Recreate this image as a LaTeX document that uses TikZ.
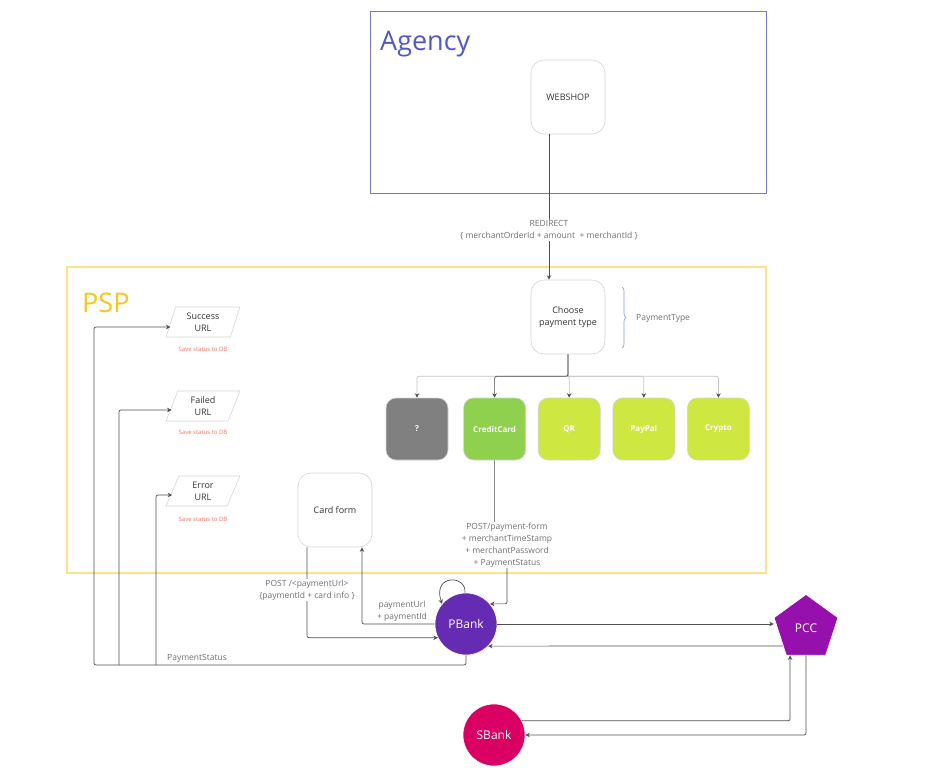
\documentclass[tikz,border=0pt]{standalone}
\usepackage{fontspec}
\setmainfont{Open Sans}
\usepackage{xcolor}
\usepackage{tikz}
\usetikzlibrary{arrows.meta,positioning,shapes.geometric,decorations.pathreplacing,calc}

\definecolor{agencyblue}{HTML}{5258C4}
\definecolor{agencyline}{HTML}{7479D6}
\definecolor{pspyellow}{HTML}{FAC710}
\definecolor{pspline}{HTML}{FBE386}
\definecolor{linegray}{HTML}{4F4F4F}
\definecolor{lightline}{HTML}{C4C4C4}
\definecolor{labelgray}{HTML}{707070}
\definecolor{boxline}{HTML}{D4D4D4}
\definecolor{unkgray}{HTML}{808080}
\definecolor{ccgreen}{HTML}{8FD14F}
\definecolor{limegreen}{HTML}{CEE741}
\definecolor{pbankpurple}{HTML}{652CB3}
\definecolor{pccviolet}{HTML}{9510AC}
\definecolor{sbankred}{HTML}{DA0063}
\definecolor{savered}{HTML}{F7715E}
\definecolor{braceblue}{HTML}{8C94E8}

\begin{document}
\begin{tikzpicture}[x=1pt, y=-1pt,
    box/.style={draw=boxline, line width=0.6pt, rounded corners=13pt, minimum width=74pt, minimum height=74pt,
        align=center, text=black!80, font=\fontsize{9}{12}\selectfont},
    paybox/.style={draw=boxline, line width=0.6pt, rounded corners=10pt, minimum width=62pt, minimum height=62pt,
        fill=#1, text=white, font=\fontsize{8}{10}\selectfont\bfseries},
    urlbox/.style={trapezium, trapezium left angle=73, trapezium right angle=107, trapezium stretches=true,
        draw=boxline, line width=0.6pt, minimum width=74pt, minimum height=30pt, inner sep=0pt,
        align=center, text=black!80, font=\fontsize{9}{12}\selectfont},
    savenote/.style={text=savered, font=\fontsize{6}{7}\selectfont},
    bank/.style={circle, fill=#1, draw=white, line width=0.6pt, minimum size=62pt, inner sep=0pt,
        text=white, font=\fontsize{12}{14}\selectfont},
    conn/.style={draw=linegray, line width=0.7pt, rounded corners=2pt, -{Stealth[length=4.5pt,width=4.5pt]}},
    lightconn/.style={conn, draw=lightline, -{Stealth[length=4.5pt,width=4.5pt,color=linegray]}},
    lbl/.style={text=labelgray, font=\fontsize{8.5}{12}\selectfont, align=center, fill=white, inner sep=1pt},
]
    \useasboundingbox (0,0) rectangle (938,777);

    % Agency
    \draw[agencyline, line width=1pt] (370,11) rectangle (766,193);
    \node[anchor=base west, inner sep=0pt, text=agencyblue, font=\fontsize{27}{30}\selectfont] (agency) at (380,50) {Agency};
    \node[box] (web) at (568,97) {WEBSHOP};

    % PSP
    \draw[pspline, line width=1.2pt] (67,267) rectangle (766,573);
    \node[anchor=base west, inner sep=0pt, text=pspyellow, font=\fontsize{27}{30}\selectfont] (psp) at (82,312) {PSP};
    \node[box] (choose) at (568,317) {Choose\\payment type};
    \draw[braceblue, line width=0.6pt, decorate, decoration={brace, amplitude=4pt}] (622,287) -- (622,348);
    \node[lbl, anchor=west] (ptype) at (635,318) {PaymentType};

    % Payment types
    \node[paybox=unkgray] (unk) at (417,429) {?};
    \node[paybox=ccgreen, right=15pt of unk] (cc) {CreditCard};
    \node[paybox=limegreen, right=12pt of cc] (qr) {QR};
    \node[paybox=limegreen, right=12pt of qr] (paypal) {PayPal};
    \node[paybox=limegreen, right=12pt of paypal] (crypto) {Crypto};

    % Result URLs
    \node[urlbox] (succ) at (203,322) {Success\\URL};
    \node[savenote] (succnote) at (203,349) {Save status to DB};
    \node[urlbox] (fail) at (203,406) {Failed\\URL};
    \node[savenote] (failnote) at (203,432) {Save status to DB};
    \node[urlbox] (err) at (203,491) {Error\\URL};
    \node[savenote] (errnote) at (203,519) {Save status to DB};

    \node[box] (card) at (335,510) {Card form};

    % Banks
    \node[bank=pbankpurple] (pbank) at (466,624) {PBank};
    \node[bank=pccviolet, regular polygon, regular polygon sides=5, minimum size=67pt] (pcc) at (806,628) {PCC};
    \node[bank=sbankred] (sbank) at (494,735) {SBank};

    % Redirect
    \draw[conn] ([xshift=-19pt]web.south) -- node[lbl, pos=0.66] {REDIRECT\\\{ merchantOrderId + amount~~+ merchantId \}} ([xshift=-19pt]choose.north);

    % Choice of payment type
    \foreach \t in {unk,qr,paypal,crypto}
        \draw[lightconn] (choose.south) -- ++(0,22) -| (\t.north);
    \draw[conn] (choose.south) -- ++(0,22) -| (cc.north);

    % Card flow
    \draw[conn] (cc.south) |- (507,540) |- (pbank.40);
    \node[lbl] (formlbl) at (507,545) {POST/payment-form\\+ merchantTimeStamp\\+ merchantPassword\\+ PaymentStatus};
    \draw[conn] (pbank.west) -| ([xshift=27pt]card.south);
    \node[lbl, fill=none] (urllbl) at (402,611) {paymentUrl\\+ paymentId};
    \draw[conn] ([xshift=-28pt]card.south) |- (pbank.206);
    \node[lbl] (postlbl) at (307,590) {POST /<paymentUrl>\\\{paymentId + card info \}};
    \draw[conn] (pbank.92) .. controls +(2,-18) and +(-10,-30) .. (pbank.140);

    % Payment status back to URLs
    \coordinate (busfail) at (119,665);
    \coordinate (buserr) at (156,665);
    \draw[conn] (pbank.south) |- (94,665) |- ([yshift=-5pt]succ.west);
    \draw[conn] (busfail) |- ([yshift=-4pt]fail.west);
    \draw[conn] (buserr) |- ([yshift=-4pt]err.west);
    \node[lbl, fill=none] (statlbl) at (197,658) {PaymentStatus};

    % PBank - PCC - SBank
    \draw[conn] (pbank.east) -- (pbank.east -| pcc.corner 2);
    \draw[conn] ($(pcc.corner 2)!0.75!(pcc.corner 3)$) -- (pbank.-45);
    \draw[conn] (sbank.27) -| ([xshift=4pt]pcc.corner 3);
    \draw[conn] (pcc.side 3) |- (sbank.east);
\end{tikzpicture}
\end{document}
